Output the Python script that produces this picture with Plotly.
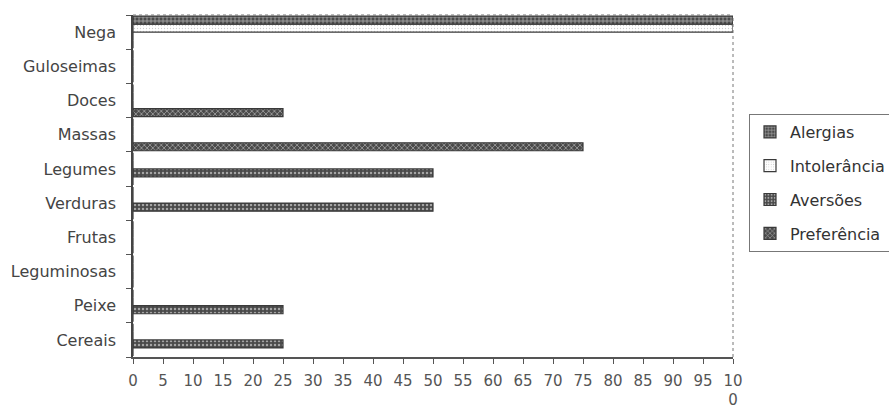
import plotly.graph_objects as go

# Food groups, bottom to top
categories = ["Cereais", "Peixe", "Leguminosas", "Frutas", "Verduras",
              "Legumes", "Massas", "Doces", "Guloseimas", "Nega"]

# Percent of respondents per food group
alergias = [0, 0, 0, 0, 0, 0, 0, 0, 0, 100]
intolerancia = [0, 0, 0, 0, 0, 0, 0, 0, 0, 100]
aversoes = [25, 25, 0, 0, 50, 50, 0, 0, 0, 0]
preferencia = [0, 0, 0, 0, 0, 0, 75, 25, 0, 0]

x_tick_values = list(range(0, 101, 5))
x_tick_labels = [str(v) for v in range(0, 100, 5)] + ["10<br>0"]

FONT = "DejaVu Sans, Arial, sans-serif"
DARK = "#4a4a4a"
EDGE = "#3a3a3a"

fig = go.Figure()

# In grouped horizontal bars the first trace sits lowest in each band;
# legendrank lists them top-down in the legend.
series = [
    ("Preferência", preferencia, 4, dict(shape="x", size=4, solidity=0.35,
                                         fgcolor="white", bgcolor=DARK)),
    ("Aversões", aversoes, 3, dict(shape=".", size=4, solidity=0.3,
                                   fgcolor="white", bgcolor=DARK)),
    ("Intolerância", intolerancia, 2, dict(shape=".", size=3, solidity=0.15,
                                           fgcolor="#9a9a9a", bgcolor="white")),
    ("Alergias", alergias, 1, dict(shape="+", size=4, solidity=0.4,
                                   fgcolor="white", bgcolor=DARK)),
]

for name, values, rank, pattern in series:
    fig.add_trace(go.Bar(
        y=categories,
        x=values,
        name=name,
        orientation="h",
        legendgroup=name,
        legendrank=rank,
        marker=dict(
            color=pattern["bgcolor"],
            line=dict(color=EDGE, width=1.2),
            pattern=dict(fillmode="overlay", **pattern),
        ),
        hoverinfo="x+y+name",
    ))

fig.update_layout(
    width=889,
    height=409,
    margin=dict(l=133, r=156, t=15, b=52),
    paper_bgcolor="white",
    plot_bgcolor="white",
    barmode="group",
    bargap=0.06,
    bargroupgap=0,
    font=dict(family=FONT, size=16, color="#444444"),
    showlegend=True,
    legend=dict(
        xref="container", yref="container",
        x=749 / 889, y=1 - 114 / 409, xanchor="left", yanchor="top",
        traceorder="grouped",
        tracegroupgap=10,
        bordercolor="#777777", borderwidth=1,
        bgcolor="white",
        font=dict(family=FONT, size=16, color="#333333"),
        itemwidth=30,
    ),
    xaxis=dict(
        range=[0, 100],
        tickmode="array",
        tickvals=x_tick_values,
        ticktext=x_tick_labels,
        showgrid=False,
        zeroline=False,
        showline=True,
        linecolor="#555555",
        linewidth=1.5,
        ticks="outside",
        ticklen=5,
        tickcolor="#555555",
        ticklabelstandoff=4,
        tickfont=dict(family=FONT, size=15, color="#555555"),
        automargin=False,
        fixedrange=True,
    ),
    yaxis=dict(
        type="category",
        categoryorder="array",
        categoryarray=categories,
        range=[-0.5, len(categories) - 0.5],
        showgrid=False,
        zeroline=False,
        showline=True,
        linecolor="#444444",
        linewidth=1.5,
        ticks="outside",
        tickson="boundaries",
        ticklen=5,
        tickcolor="#555555",
        ticklabelstandoff=12,
        tickfont=dict(family=FONT, size=16, color="#444444"),
        automargin=False,
        fixedrange=True,
    ),
    shapes=[
        # dotted plot-area border on the right and top
        dict(type="line", xref="paper", yref="paper", x0=1, x1=1, y0=0, y1=1,
             line=dict(color="#777777", width=1, dash="dot")),
        dict(type="line", xref="paper", yref="paper", x0=0, x1=1, y0=1, y1=1,
             line=dict(color="#777777", width=1, dash="dot")),
    ],
)

fig.write_html("out.html")
